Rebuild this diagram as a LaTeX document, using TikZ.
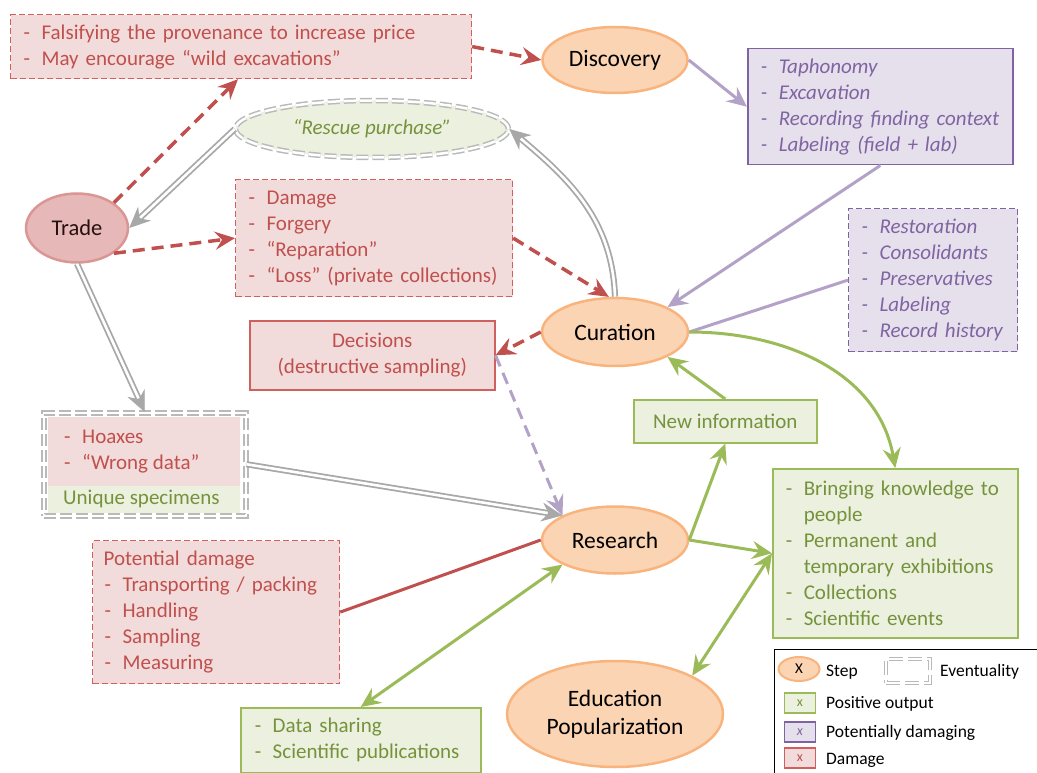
\documentclass[tikz,border=0pt]{standalone}
\usepackage{fontspec}
\setmainfont{Carlito}
\usetikzlibrary{arrows.meta,shapes.geometric,calc}

\definecolor{dmgtext}{HTML}{C0504D}
\definecolor{dmgfill}{HTML}{F2DCDB}
\definecolor{dmgline}{HTML}{D0605D}
\definecolor{risktext}{HTML}{8064A2}
\definecolor{riskfill}{HTML}{E5E0EC}
\definecolor{riskline}{HTML}{B3A2C7}
\definecolor{postext}{HTML}{76923C}
\definecolor{posfill}{HTML}{EBF1DE}
\definecolor{posline}{HTML}{9BBB59}
\definecolor{stepfill}{HTML}{FBD4B4}
\definecolor{stepline}{HTML}{F9B47E}
\definecolor{evtline}{HTML}{A8A8A8}
\definecolor{tradefill}{HTML}{E6B9B8}
\definecolor{tradeline}{HTML}{D99694}

\newcommand\itm[1]{\mbox{\makebox[19pt][l]{\hspace{1pt}-}#1}}
\newcommand\ind[1]{\mbox{\hspace*{19pt}#1}}

\tikzset{
  stage/.style={ellipse, draw=stepline, fill=stepfill, line width=2.5pt,
    font=\fontsize{23.5}{28}\selectfont},
  dmgbox/.style={draw=dmgline, fill=dmgfill, text=dmgtext, line width=1.2pt,
    dash pattern=on 6pt off 3pt, anchor=north west, align=left, inner xsep=12pt},
  dmgsolid/.style={draw=dmgline, fill=dmgfill, text=dmgtext, line width=1.5pt,
    anchor=north west, align=center},
  riskbox/.style={draw=risktext, fill=riskfill, text=risktext, line width=1.5pt,
    anchor=north west, align=left, inner xsep=12pt, font=\fontsize{21}{26}\selectfont\itshape},
  riskdash/.style={riskbox, line width=1.2pt, dash pattern=on 6pt off 3pt},
  posbox/.style={draw=posline, fill=posfill, text=postext, line width=1.5pt,
    anchor=north west, align=left, inner xsep=12pt},
  evtbox/.style={draw=evtline!80, double=white, double distance=2.5pt, line width=1.5pt,
    dash pattern=on 12pt off 4pt},
  dmgarrow/.style={draw=dmgtext, line width=3.5pt, dash pattern=on 12pt off 7pt, ->},
  riskarrow/.style={draw=riskline, line width=3pt, ->},
  posarrow/.style={draw=posline, line width=3pt, ->},
  evttip/.tip={Stealth[length=21pt,width=19pt,inset=7pt,line width=0.8pt,fill=evtline]},
  evtarrow/.style={draw=evtline, line width=6.2pt, -evttip,
    postaction={draw=white, line width=2.6pt, shorten >=15pt, -}},
  lgd/.style={anchor=west, font=\fontsize{17.5}{20}\selectfont},
  lgdbox/.style={minimum width=31pt, minimum height=20pt, line width=1.2pt,
    font=\fontsize{14}{16}\selectfont}
}

\begin{document}
\begin{tikzpicture}[x=1pt, y=1pt, >={Stealth[length=20pt,width=18pt,inset=7pt]},
    every node/.style={font=\fontsize{21}{26}\selectfont, inner sep=0pt}]
  \useasboundingbox (0,0) rectangle (1037,-773);

  % steps
  \node[stage, minimum width=145pt, minimum height=66pt] (discovery) at (615,-60) {Discovery};
  \node[stage, minimum width=146pt, minimum height=68pt] (curation) at (615,-332) {Curation};
  \node[stage, minimum width=146pt, minimum height=67pt] (research) at (615,-540) {Research};
  \node[stage, minimum width=216pt, minimum height=106pt, align=center] (education)
    at (615,-714) {Education\\Popularization};
  \node[ellipse, draw=tradeline, fill=tradefill, line width=2.5pt, minimum width=102pt,
    minimum height=69pt, text=black!80!dmgtext, font=\fontsize{22.5}{26}\selectfont] (trade)
    at (77,-228) {Trade};
  \node[ellipse, evtbox, fill=posfill, text=postext, minimum width=273pt, minimum height=57pt,
    font=\fontsize{21}{26}\selectfont\itshape] (rescue) at (372,-129) {“Rescue purchase”};

  % damage
  \node[dmgbox, text width=437pt, minimum height=64pt] (falsify) at (10,-14)
    {\itm{Falsifying the provenance to increase price}\\\itm{May encourage “wild excavations”}};
  \node[dmgbox, text width=253pt, minimum height=117pt] (damage) at (235,-179)
    {\itm{Damage}\\\itm{Forgery}\\\itm{“Reparation”}\\\itm{“Loss” (private collections)}};
  \node[dmgsolid, minimum width=245pt, minimum height=69pt] (decide) at (249,-320)
    {Decisions\\(destructive sampling)};
  \node[dmgbox, inner xsep=11pt, text width=225pt, minimum height=143pt] (potential) at (92,-540)
    {Potential damage\\\itm{Transporting / packing}\\\itm{Handling}\\\itm{Sampling}\\\itm{Measuring}};

  % potentially damaging
  \node[riskbox, text width=241pt, minimum height=116pt] (taph) at (747,-48)
    {\itm{Taphonomy}\\\itm{Excavation}\\\itm{Recording finding context}\\\itm{Labeling (field + lab)}};
  \node[riskdash, text width=145pt, minimum height=143pt] (resto) at (848,-208)
    {\itm{Restoration}\\\itm{Consolidants}\\\itm{Preservatives}\\\itm{Labeling}\\\itm{Record history}};

  % positive output
  \node[posbox, align=center, inner xsep=0pt, minimum width=183pt, minimum height=43pt] (newinfo)
    at (633,-399) {New information};
  \node[posbox, text width=221pt, minimum height=169pt] (bring) at (772,-468)
    {\itm{Bringing knowledge to}\\\ind{people}\\\itm{Permanent and}\\\ind{temporary exhibitions}\\\itm{Collections}\\\itm{Scientific events}};
  \node[posbox, inner xsep=13pt, text width=214pt, minimum height=65pt] (datashare) at (240,-707)
    {\itm{Data sharing}\\\itm{Scientific publications}};

  % eventuality
  \fill[dmgfill] (48,-417) rectangle (240,-486);
  \fill[posfill] (48,-486) rectangle (240,-513);
  \node[evtbox, anchor=north west, minimum width=202pt, minimum height=103pt] (hoax) at (43,-412) {};
  \node[anchor=west, align=left, text=dmgtext] (hoaxtxt) at (63,-452) {\itm{Hoaxes}\\\itm{“Wrong data”}};
  \node[anchor=west, text=postext] (unique) at (63,-499) {Unique specimens};

  % connectors
  \draw[dmgarrow] (trade.north east) -- ($(falsify.south west)+(228,0)$);
  \draw[dmgarrow] (falsify.east) -- (discovery.west);
  \draw[riskarrow] (discovery.east) -- (taph.west);
  \draw[riskarrow] (taph.south) -- (curation.north east);
  \draw[draw=riskline, line width=3pt] (resto.west) -- (curation.east);
  \draw[evtarrow] (curation.north) to[out=92, in=-40] (rescue.east);
  \draw[evtarrow] (rescue.west) -- (trade.east);
  \draw[dmgarrow] (trade.south east) -- (damage.west);
  \draw[dmgarrow] (damage.east) -- (curation.100);
  \draw[dmgarrow] (curation.west) -- (decide.east);
  \draw[riskarrow, dash pattern=on 12pt off 7pt] (decide.east) -- (research.north west);
  \draw[evtarrow] (trade.south) -- (hoax.north);
  \draw[evtarrow] (hoax.east) -- (research.north west);
  \draw[draw=dmgtext, line width=3pt] (potential.east) -- (research.west);
  \draw[posarrow, <->] (research.south west) -- (datashare.north);
  \draw[posarrow] (research.east) -- (newinfo.south);
  \draw[posarrow] (newinfo.north) -- (curation.south east);
  \draw[posarrow] (curation.east) to[out=0, in=100] (bring.north);
  \draw[posarrow] (research.east) -- (bring.west);
  \draw[posarrow, <->] (bring.west) -- (education.north east);

  % legend
  \node[draw=black, line width=1.2pt, anchor=north west, minimum width=275pt,
    minimum height=135pt] (legend) at (774,-649) {};
  \node[stage, line width=2pt, minimum width=41pt, minimum height=24pt,
    font=\fontsize{15}{16}\selectfont] (lstep) at (799,-669) {X};
  \node[lgd] (lsteptxt) at (826,-672) {Step};
  \node[evtbox, line width=1.2pt, double distance=2.5pt, dash pattern=on 14pt off 5pt,
    minimum width=44pt, minimum height=24pt] (levt) at (908,-671) {};
  \node[lgd] (levttxt) at (940,-672) {Eventuality};
  \node[lgdbox, draw=posline, fill=posfill, text=postext] (lpos) at (800,-703) {x};
  \node[lgd] (lpostxt) at (826,-704) {Positive output};
  \node[lgdbox, draw=risktext, fill=riskfill, text=risktext,
    font=\fontsize{14}{16}\selectfont\itshape] (lrisk) at (800,-732) {x};
  \node[lgd] (lrisktxt) at (826,-733) {Potentially damaging};
  \node[lgdbox, draw=dmgline, fill=dmgfill, text=dmgtext] (ldmg) at (800,-758) {x};
  \node[lgd] (ldmgtxt) at (826,-760) {Damage};
\end{tikzpicture}
\end{document}
